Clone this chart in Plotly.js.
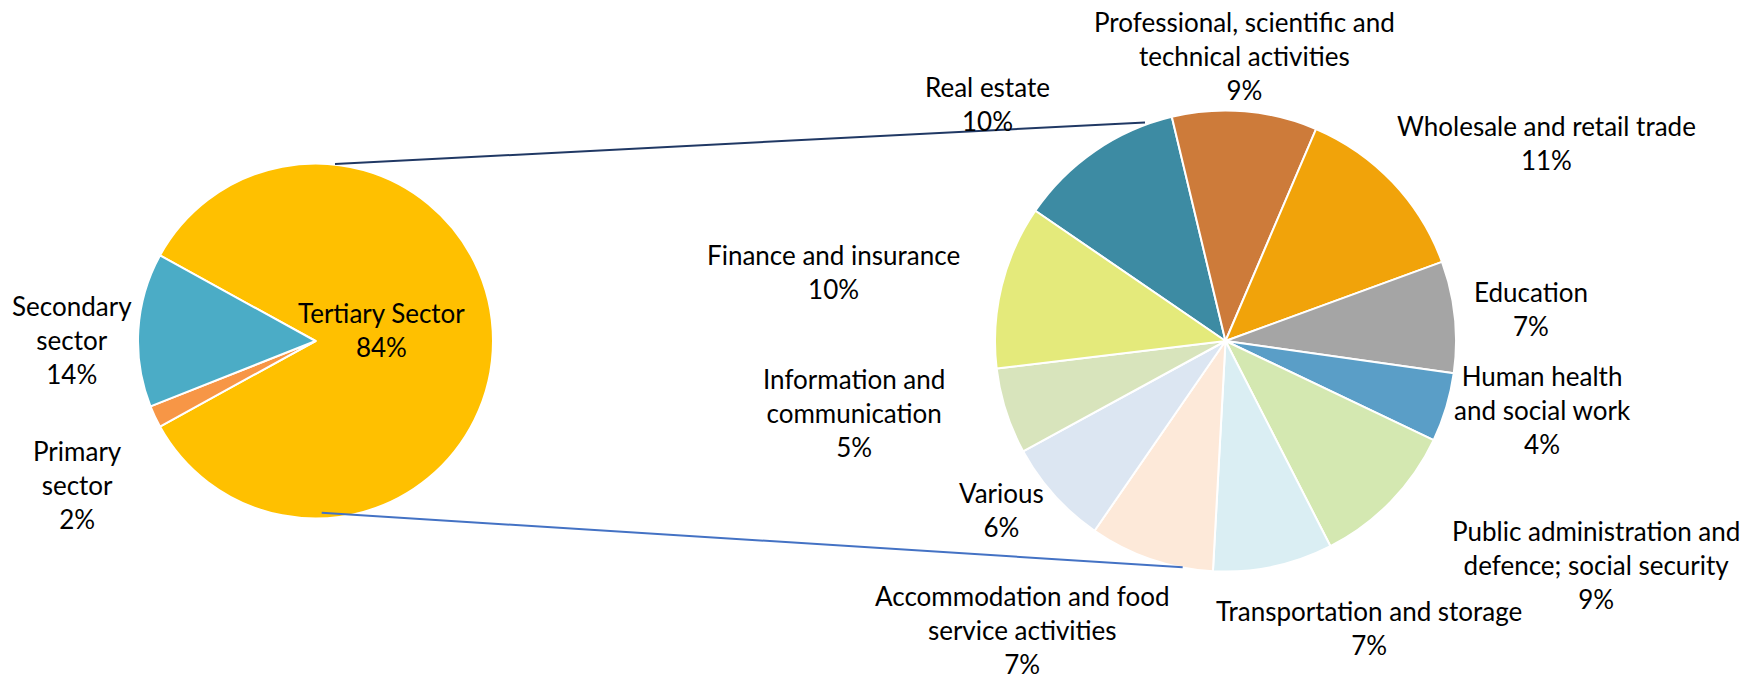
<!DOCTYPE html>
<html>
<head>
<meta charset="utf-8">
<script src="https://cdn.plot.ly/plotly-3.0.1.min.js"></script>
<style>html,body{margin:0;padding:0;background:#fff;}#chart{width:1760px;height:681px;}</style>
</head>
<body>
<div id="chart"></div>
<script>
// Main pie: economy by sector (% of total)
const sectorLabels = ['Tertiary Sector', 'Primary<br>sector', 'Secondary<br>sector'];
const sectorValues = [84, 2, 14];
const sectorColors = ['#FFC000', '#F79646', '#4BACC6'];

// Breakdown of the tertiary sector (% of total economy)
const serviceLabels = [
  'Real estate',
  'Professional, scientific and<br>technical activities',
  'Wholesale and retail trade',
  'Education',
  'Human health<br>and social work',
  'Public administration and<br>defence; social security',
  'Transportation and storage',
  'Accommodation and food<br>service activities',
  'Various',
  'Information and<br>communication',
  'Finance and insurance'
];
const serviceValues = [9.9, 8.6, 11.0, 6.6, 4.1, 8.8, 7.1, 7.4, 6.3, 5.1, 9.7];
const serviceColors = ['#3D8BA3', '#CD7B3A', '#F1A30A', '#A5A5A5', '#5A9EC7', '#D4E8B1',
                       '#DAEEF3', '#FDE9D9', '#DCE6F2', '#D8E4BC', '#E4EA7B'];

const W = 1760, H = 681;
const px = x => x / W;
const py = y => 1 - y / H;

// label centre positions (pixels) - styling only
const sectorLabelPos = [[381, 330], [77, 485], [72, 340]];
const serviceLabelPos = [
  [987, 104], [1244, 56], [1546, 143], [1531, 309], [1542, 410], [1596, 565],
  [1369, 628], [1022, 630], [1001, 510], [854, 413], [833, 272]
];

const tertiaryShare = sectorValues[0] / sectorValues.reduce((a, b) => a + b, 0);

const traces = [
  {
    type: 'pie', labels: sectorLabels, values: sectorValues, sort: false,
    direction: 'clockwise', rotation: 90 - tertiaryShare * 180,
    marker: {colors: sectorColors, line: {color: '#FFFFFF', width: 2}},
    textinfo: 'none', hoverinfo: 'label+value',
    domain: {x: [px(138), px(493)], y: [py(518.5), py(163.5)]}
  },
  {
    type: 'pie', labels: serviceLabels, values: serviceValues, sort: false,
    direction: 'clockwise', rotation: -55.6,
    marker: {colors: serviceColors, line: {color: '#FFFFFF', width: 2}},
    textinfo: 'none', hoverinfo: 'label+value',
    domain: {x: [px(995), px(1456)], y: [py(571.5), py(110.5)]}
  }
];

const font = {family: 'Lato, "Open Sans", sans-serif', size: 26, color: '#000000'};
const annotations = [];
sectorLabels.forEach((l, i) => {
  annotations.push({
    xref: 'paper', yref: 'paper', x: px(sectorLabelPos[i][0]), y: py(sectorLabelPos[i][1]),
    xanchor: 'center', yanchor: 'middle', showarrow: false, align: 'center',
    text: l + '<br>' + Math.round(sectorValues[i]) + '%', font: font
  });
});
serviceLabels.forEach((l, i) => {
  annotations.push({
    xref: 'paper', yref: 'paper', x: px(serviceLabelPos[i][0]), y: py(serviceLabelPos[i][1]),
    xanchor: 'center', yanchor: 'middle', showarrow: false, align: 'center', borderpad: 0,
    text: l + '<br>' + Math.round(serviceValues[i]) + '%', font: font
  });
});

const shapes = [
  {type: 'line', xref: 'paper', yref: 'paper', x0: px(335), y0: py(164), x1: px(1145), y1: py(122.5),
   line: {color: '#203864', width: 2}},
  {type: 'line', xref: 'paper', yref: 'paper', x0: px(321.7), y0: py(512.7), x1: px(1182.7), y1: py(567.3),
   line: {color: '#4472C4', width: 2}}
];

const layout = {
  width: W, height: H,
  margin: {l: 0, r: 0, t: 0, b: 0},
  paper_bgcolor: '#FFFFFF', plot_bgcolor: '#FFFFFF',
  showlegend: false,
  annotations: annotations,
  shapes: shapes,
  font: font
};

Plotly.newPlot('chart', traces, layout, {displayModeBar: false, staticPlot: true});
</script>
</body>
</html>
